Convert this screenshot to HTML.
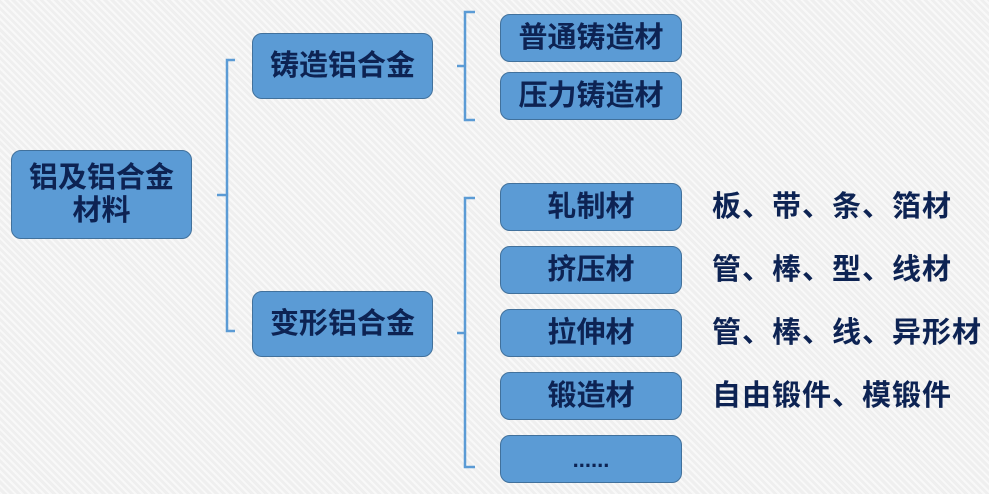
<!DOCTYPE html>
<html><head><meta charset="utf-8"><style>
body{margin:0;width:989px;height:494px;overflow:hidden;background:#efefef;
background-image:repeating-linear-gradient(45deg,rgba(255,255,255,.6) 0 2px,transparent 2px 5px);
font-family:"Liberation Sans","Noto Sans CJK SC",sans-serif;position:relative}
.b{position:absolute;background:#5b9bd5;border:1.5px solid #41719c;border-radius:10px;box-sizing:border-box;
display:flex;align-items:center;justify-content:center;text-align:center;color:#0d2353;font-size:29px;line-height:33px;font-weight:bold}
.t{position:absolute;left:712px;color:#0d2353;font-size:29px;line-height:32px;font-weight:bold;white-space:nowrap;letter-spacing:1px}
</style></head><body>
<svg width="989" height="494" style="position:absolute;left:0;top:0" fill="none" stroke="#5b9bd5" stroke-width="2.5">
<path d="M235 60 H227 V331 H235 M217 195 H227"/>
<path d="M475 12 H465 V120 H475 M457 66 H465"/>
<path d="M475 198 H465 V467 H475 M457 333 H465"/>
</svg>
<div class="b" style="left:11px;top:150px;width:181px;height:89px">铝及铝合金<br>材料</div>
<div class="b" style="left:252px;top:33px;width:181px;height:66px">铸造铝合金</div>
<div class="b" style="left:252px;top:291px;width:181px;height:66px">变形铝合金</div>
<div class="b" style="left:500px;top:14px;width:182px;height:48px">普通铸造材</div>
<div class="b" style="left:500px;top:72px;width:182px;height:48px">压力铸造材</div>
<div class="b" style="left:500px;top:183px;width:182px;height:48px">轧制材</div>
<div class="b" style="left:500px;top:246px;width:182px;height:48px">挤压材</div>
<div class="b" style="left:500px;top:309px;width:182px;height:48px">拉伸材</div>
<div class="b" style="left:500px;top:372px;width:182px;height:48px">锻造材</div>
<div class="b" style="left:500px;top:435px;width:182px;height:48px;font-size:22px">......</div>
<div class="t" style="top:191px">板、带、条、箔材</div>
<div class="t" style="top:254px">管、棒、型、线材</div>
<div class="t" style="top:317px">管、棒、线、异形材</div>
<div class="t" style="top:380px">自由锻件、模锻件</div>
</body></html>
